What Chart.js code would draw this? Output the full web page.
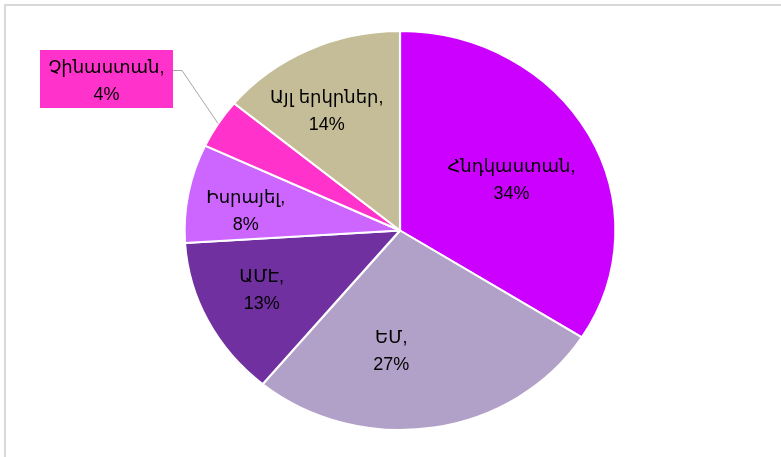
<!DOCTYPE html>
<html>
<head>
<meta charset="utf-8">
<script src="https://cdn.jsdelivr.net/npm/chart.js@4.4.1/dist/chart.umd.min.js"></script>
<style>
  html, body { margin: 0; padding: 0; background: #ffffff; }
  #wrap { position: relative; width: 781px; height: 457px; overflow: hidden; background: #fff; }
  #frame { position: absolute; left: 4px; top: 4px; width: 900px; height: 600px; border-left: 2px solid #d9d9d9; border-top: 2px solid #d9d9d9; box-sizing: border-box; }
  canvas { position: absolute; left: 0; top: 0; }
</style>
</head>
<body>
<div id="wrap">
  <div id="frame"></div>
  <canvas id="c" width="781" height="457"></canvas>
</div>
<script>
// ---- data ----
const categories = ["Հնդկաստան", "ԵՄ", "ԱՄԷ", "Իսրայել", "Չինաստան", "Այլ երկրներ"];
const shares = [34, 27, 13, 8, 4, 14];
const percentLabels = ["34%", "27%", "13%", "8%", "4%", "14%"];

// ---- style ----
const sliceColors = ["#CC00FF", "#B1A0C7", "#7030A0", "#CC66FF", "#FF33CC", "#C4BD97"];
const labelRadius = [0.58, 0.60, 0.70, 0.71, 0, 0.70];
const labelShift = [[2, 6], [-29, 3], [-4, -3], [-4, 8], [0, 0], [-9, 8]];
const calloutIndex = 4;
const stretchX = 216.5 / 200.5;
const fontFamily = '"Liberation Sans", Arial, "DejaVu Sans", sans-serif';
const fontSize = 18;

const ellipsePlugin = {
  id: 'ellipse',
  beforeDatasetsDraw(chart) {
    const arc = chart.getDatasetMeta(0).data[0];
    const ctx = chart.ctx;
    ctx.save();
    ctx.translate(arc.x, arc.y);
    ctx.scale(stretchX, 1);
    ctx.translate(-arc.x, -arc.y);
  },
  afterDatasetsDraw(chart) {
    const ctx = chart.ctx;
    ctx.restore();
    const meta = chart.getDatasetMeta(0);
    ctx.save();
    ctx.textAlign = 'center';
    ctx.textBaseline = 'alphabetic';
    ctx.font = fontSize + 'px ' + fontFamily;
    meta.data.forEach((arc, i) => {
      const mid = (arc.startAngle + arc.endAngle) / 2;
      const R = arc.outerRadius;
      const line1 = categories[i] + ",";
      const line2 = percentLabels[i];
      if (i === calloutIndex) {
        const ex = arc.x + stretchX * R * Math.cos(mid);
        const ey = arc.y + R * Math.sin(mid);
        const bx = arc.x - 360, by = arc.y - 180.5, bw = 133, bh = 58;
        ctx.fillStyle = sliceColors[i];
        ctx.fillRect(bx, by, bw, bh);
        ctx.strokeStyle = '#a6a6a6';
        ctx.lineWidth = 1;
        ctx.beginPath();
        ctx.moveTo(bx + bw, by + 20.5);
        ctx.lineTo(bx + bw + 9, by + 20.5);
        ctx.lineTo(ex, ey);
        ctx.stroke();
        ctx.fillStyle = '#000';
        ctx.fillText(line1, bx + bw / 2, by + 23);
        ctx.fillText(line2, bx + bw / 2, by + 50);
        return;
      }
      const k = labelRadius[i];
      const cx = arc.x + stretchX * R * k * Math.cos(mid) + labelShift[i][0];
      const cy = arc.y + R * k * Math.sin(mid) + labelShift[i][1];
      ctx.fillStyle = '#000';
      ctx.fillText(line1, cx, cy - 9);
      ctx.fillText(line2, cx, cy + 18);
    });
    ctx.restore();
  }
};

new Chart(document.getElementById('c'), {
  type: 'pie',
  data: {
    labels: categories,
    datasets: [{
      data: shares,
      backgroundColor: sliceColors,
      borderColor: '#ffffff',
      borderWidth: 2
    }]
  },
  options: {
    responsive: false,
    animation: false,
    layout: { padding: { left: 19, right: 0, top: 30, bottom: 26 } },
    plugins: { legend: { display: false }, tooltip: { enabled: false } }
  },
  plugins: [ellipsePlugin]
});
</script>
</body>
</html>
